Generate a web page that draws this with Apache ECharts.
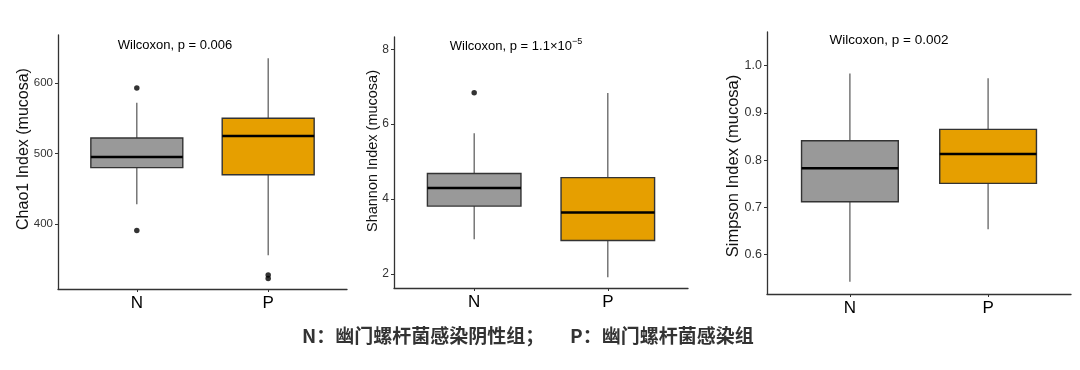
<!DOCTYPE html>
<html>
<head>
<meta charset="utf-8">
<script src="https://cdn.jsdelivr.net/npm/echarts@6/dist/echarts.min.js"></script>
<style>
html,body{margin:0;padding:0;background:#fff;}
#chart{width:1080px;height:370px;}
</style>
</head>
<body>
<div id="chart"></div>
<script>
// ---- data ----
const categories = ['N', 'P'];
// [lower whisker, Q1, median, Q3, upper whisker]
const chao1Box = [[428, 480, 495, 522, 572], [356, 470, 525, 550, 635]];
const chao1Outliers = [[1, 593], [1, 391], [2, 328], [2, 323]];
const shannonBox = [[2.92, 3.81, 4.29, 4.68, 5.76], [1.91, 2.89, 3.64, 4.57, 6.83]];
const shannonOutliers = [[1, 6.84]];
const simpsonBox = [[0.543, 0.712, 0.783, 0.841, 0.983], [0.654, 0.751, 0.813, 0.865, 0.973]];
const simpsonOutliers = [];
const chao1Ticks = [400, 500, 600];
const shannonTicks = [2, 4, 6, 8];
const simpsonTicks = [0.6, 0.7, 0.8, 0.9, 1.0];

const boxColors = ['#999999', '#E69F00'];
const BOX_W = 0.7;

const panels = [
  { grid: { left: 58, top: 35, width: 289, height: 254 }, y: [308, 668], ticks: chao1Ticks, box: chao1Box, out: chao1Outliers, fmt: v => String(v), tickSize: 11.5 },
  { grid: { left: 394, top: 37, width: 294, height: 251 }, y: [1.62, 8.33], ticks: shannonTicks, box: shannonBox, out: shannonOutliers, fmt: v => String(v), tickSize: 12 },
  { grid: { left: 767, top: 32, width: 304, height: 262 }, y: [0.517, 1.071], ticks: simpsonTicks, box: simpsonBox, out: simpsonOutliers, fmt: v => v.toFixed(1), tickSize: 12.5 }
];

function renderBox(params, api) {
  const x = api.value(0);
  const lo = api.value(1), q1 = api.value(2), md = api.value(3), q3 = api.value(4), hi = api.value(5);
  const half = api.size([BOX_W, 0])[0] / 2;
  const pLo = api.coord([x, lo]), pQ1 = api.coord([x, q1]), pMd = api.coord([x, md]);
  const pQ3 = api.coord([x, q3]), pHi = api.coord([x, hi]);
  const cx = pMd[0];
  const fill = boxColors[params.dataIndex % boxColors.length];
  return {
    type: 'group',
    children: [
      { type: 'line', shape: { x1: cx, y1: pQ3[1], x2: cx, y2: pHi[1] }, style: { stroke: '#555', lineWidth: 1.2 } },
      { type: 'line', shape: { x1: cx, y1: pQ1[1], x2: cx, y2: pLo[1] }, style: { stroke: '#555', lineWidth: 1.2 } },
      { type: 'rect', shape: { x: cx - half, y: pQ3[1], width: half * 2, height: pQ1[1] - pQ3[1] }, style: { fill: fill, stroke: '#333', lineWidth: 1.4 } },
      { type: 'line', shape: { x1: cx - half, y1: pMd[1], x2: cx + half, y2: pMd[1] }, style: { stroke: '#000', lineWidth: 2.5 } }
    ]
  };
}

const fontLatin = 'Liberation Sans, Arial, sans-serif';

const option = {
  backgroundColor: '#fff',
  animation: false,
  grid: panels.map(p => Object.assign({ containLabel: false }, p.grid)),
  xAxis: panels.map((p, i) => ({
    type: 'value', gridIndex: i, min: 0.4, max: 2.6,
    splitLine: { show: false },
    axisLine: { show: true, lineStyle: { color: '#333', width: 1.3 } },
    axisTick: { show: true, customValues: [1, 2], length: 3, lineStyle: { color: '#333' } },
    axisLabel: { customValues: [1, 2], formatter: v => categories[Math.round(v) - 1], fontSize: 17, color: '#000', fontFamily: fontLatin, margin: 6 }
  })),
  yAxis: panels.map((p, i) => ({
    type: 'value', gridIndex: i, min: p.y[0], max: p.y[1],
    splitLine: { show: false },
    axisLine: { show: true, lineStyle: { color: '#333', width: 1.3 } },
    axisTick: { show: true, customValues: p.ticks, length: 3, lineStyle: { color: '#333' } },
    axisLabel: { customValues: p.ticks, formatter: p.fmt, fontSize: p.tickSize, color: '#333', fontFamily: fontLatin, margin: 5 }
  })),
  series: [],
  graphic: []
};

panels.forEach((p, i) => {
  option.series.push({
    type: 'custom', xAxisIndex: i, yAxisIndex: i,
    renderItem: renderBox,
    encode: { x: 0, y: [1, 2, 3, 4, 5] },
    data: p.box.map((b, k) => [k + 1].concat(b))
  });
  option.series.push({
    type: 'scatter', xAxisIndex: i, yAxisIndex: i,
    symbolSize: 5.5, itemStyle: { color: '#000' },
    data: p.out
  });
});

option.graphic = [
  { type: 'text', x: 175, y: 45, style: { text: 'Wilcoxon, p = 0.006', font: '13px ' + fontLatin, fill: '#000', align: 'center', verticalAlign: 'middle' } },
  { type: 'text', x: 516, y: 46, style: { text: '{a|Wilcoxon, p = 1.1×10}{s|−5}', align: 'center', verticalAlign: 'middle',
      rich: { a: { fontSize: 13, fontFamily: fontLatin, fill: '#000' }, s: { fontSize: 9, fontFamily: fontLatin, fill: '#000', padding: [0, 0, 9, 0] } } } },
  { type: 'text', x: 889, y: 40, style: { text: 'Wilcoxon, p = 0.002', font: '13.5px ' + fontLatin, fill: '#000', align: 'center', verticalAlign: 'middle' } },
  { type: 'text', x: 24, y: 149, rotation: Math.PI / 2, style: { text: 'Chao1 Index (mucosa)', font: '16px ' + fontLatin, fill: '#111', align: 'center', verticalAlign: 'middle' } },
  { type: 'text', x: 373, y: 151, rotation: Math.PI / 2, style: { text: 'Shannon Index (mucosa)', font: '14.5px ' + fontLatin, fill: '#111', align: 'center', verticalAlign: 'middle' } },
  { type: 'text', x: 733, y: 166, rotation: Math.PI / 2, style: { text: 'Simpson Index (mucosa)', font: '16.5px ' + fontLatin, fill: '#111', align: 'center', verticalAlign: 'middle' } },
  { type: 'text', x: 302, y: 336, style: { text: 'N：幽门螺杆菌感染阴性组；', font: 'bold 19px "Noto Sans CJK SC", sans-serif', fill: '#333', align: 'left', verticalAlign: 'middle' } },
  { type: 'text', x: 570, y: 336, style: { text: 'P：幽门螺杆菌感染组', font: 'bold 19px "Noto Sans CJK SC", sans-serif', fill: '#333', align: 'left', verticalAlign: 'middle' } }
];

const chart = echarts.init(document.getElementById('chart'), null, { renderer: 'canvas' });
chart.setOption(option);
</script>
</body>
</html>
